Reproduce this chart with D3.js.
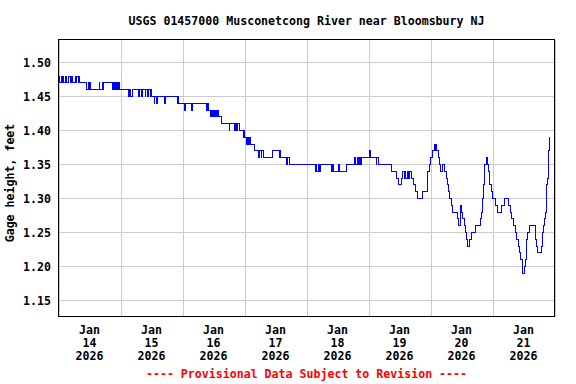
<!DOCTYPE html>
<html>
<head>
<meta charset="utf-8">
<script src="https://cdn.jsdelivr.net/npm/d3@7"></script>
<style>
  body { margin: 0; background: #fff; }
  text { font-family: "DejaVu Sans Mono", "Liberation Mono", monospace; font-weight: bold; font-size: 11.6px; }
  .grid line { stroke: #cccccc; stroke-width: 1; shape-rendering: crispEdges; }
  .grid path { display: none; }
</style>
</head>
<body>
<div id="chart"></div>
<script>
// gage height, step changes: [hours since Jan 14 00:00, feet]
var stepHours = [
  0, 0.5, 1, 1.25, 1.5, 2, 2.75, 3.25, 4, 4.5, 5, 5.25, 6.5, 6.75, 7, 7.75, 8, 8.25,
  11, 11.5, 12, 12.25, 12.5, 15.75, 16, 17, 17.25, 17.5,
  21, 21.25, 21.75, 22, 22.5, 22.75, 23.25, 23.5, 23.75,
  27.25, 27.5, 28, 28.5, 31, 31.5, 32, 32.5, 33.5, 33.75, 34.5, 35, 35.5, 35.75, 36,
  37, 37.25, 38, 38.25, 41, 41.5, 46, 46.25, 46.5, 48.75, 49, 51.5, 51.75,
  57.25, 57.5, 58, 59, 59.25, 59.5, 60, 60.25, 60.75, 61, 61.5, 61.75, 63,
  66, 66.25, 68.25, 68.5, 69, 69.25, 70, 71.5, 71.75, 72, 72.75, 73, 73.5, 73.75, 74.25,
  76, 77.5, 77.75, 78.5, 78.75, 79.25, 82.75, 85.5, 85.75, 86, 88.25, 88.5, 89.5,
  99.5, 99.75, 100, 100.5, 101, 101.25, 105.75, 106, 106.5, 108.5, 108.75, 111.5,
  114.75, 115, 115.75, 116, 116.5, 116.75, 117.25, 120.5, 120.75, 123, 123.25, 123.75, 129,
  130.75, 131.75, 132.75, 133.25, 133.75, 134, 134.5, 135.25, 135.5, 136,
  136.75, 137.25, 138, 139, 141, 142.75, 143, 143.5, 144, 144.75, 145.5, 145.75, 146, 146.25,
  147, 147.5, 148, 148.75, 149.25, 150, 150.75, 151, 151.5, 152, 152.5, 154.5, 155, 155.5,
  156, 156.5, 157, 157.5, 158, 158.5, 159, 159.75, 161.25,
  163.25, 163.75, 164.25, 164.5, 164.75, 165, 165.5, 166, 166.5, 166.75, 167, 167.75, 168,
  169, 169.75, 171.5, 172.5, 174.25, 175, 175.5, 176.25, 177, 177.25, 178.25, 178.5, 179,
  179.5, 180.25, 180.75, 181, 181.25, 181.5, 182.5, 184.5, 185, 185.5, 187, 187.25, 187.5,
  187.75, 188.25, 188.5, 188.75, 189, 189.25, 189.5, 189.75, 190, 190.25
];
var stepValues = [
  1.48, 1.47, 1.48, 1.47, 1.48, 1.47, 1.48, 1.47, 1.48, 1.47, 1.48, 1.47, 1.48, 1.47, 1.48, 1.47, 1.48, 1.47,
  1.46, 1.47, 1.46, 1.47, 1.46, 1.47, 1.46, 1.47, 1.46, 1.47,
  1.46, 1.47, 1.46, 1.47, 1.46, 1.47, 1.46, 1.47, 1.46,
  1.45, 1.46, 1.45, 1.46, 1.45, 1.46, 1.45, 1.46, 1.45, 1.46, 1.45, 1.46, 1.45, 1.46, 1.45,
  1.44, 1.45, 1.44, 1.45, 1.44, 1.45, 1.44, 1.45, 1.44, 1.43, 1.44, 1.43, 1.44,
  1.43, 1.44, 1.43, 1.42, 1.43, 1.42, 1.43, 1.42, 1.43, 1.42, 1.43, 1.42, 1.41,
  1.40, 1.41, 1.40, 1.41, 1.40, 1.41, 1.40, 1.39, 1.40, 1.39, 1.38, 1.39, 1.38, 1.39, 1.38,
  1.37, 1.36, 1.37, 1.36, 1.37, 1.36, 1.37, 1.36, 1.37, 1.36, 1.35, 1.36, 1.35,
  1.34, 1.35, 1.34, 1.35, 1.34, 1.35, 1.34, 1.35, 1.34, 1.35, 1.34, 1.35,
  1.36, 1.35, 1.36, 1.35, 1.36, 1.35, 1.36, 1.37, 1.36, 1.35, 1.36, 1.35, 1.34,
  1.33, 1.32, 1.33, 1.34, 1.33, 1.34, 1.33, 1.34, 1.33, 1.34,
  1.33, 1.32, 1.31, 1.30, 1.31, 1.33, 1.34, 1.35, 1.36, 1.37, 1.38, 1.37, 1.38, 1.37,
  1.36, 1.35, 1.34, 1.35, 1.34, 1.33, 1.32, 1.31, 1.30, 1.29, 1.28, 1.27, 1.26, 1.29,
  1.28, 1.27, 1.26, 1.25, 1.24, 1.23, 1.24, 1.25, 1.26,
  1.27, 1.28, 1.30, 1.32, 1.33, 1.35, 1.36, 1.35, 1.34, 1.33, 1.32, 1.31, 1.30,
  1.29, 1.28, 1.29, 1.30, 1.29, 1.28, 1.27, 1.26, 1.25, 1.24, 1.23, 1.22, 1.21,
  1.19, 1.20, 1.21, 1.22, 1.24, 1.25, 1.26, 1.24, 1.23, 1.22, 1.23, 1.24, 1.25,
  1.26, 1.27, 1.28, 1.30, 1.32, 1.33, 1.35, 1.37, 1.39, 1.39
];
var yTicks = [1.15, 1.20, 1.25, 1.30, 1.35, 1.40, 1.45, 1.50];
var dayLabels = ["14", "15", "16", "17", "18", "19", "20", "21"];
var monthLabel = "Jan";
var yearLabel = "2026";
var title = "USGS 01457000 Musconetcong River near Bloomsbury NJ";
var yTitle = "Gage height, feet";
var footnote = "---- Provisional Data Subject to Revision ----";

var W = 576, H = 384;
var margin = { top: 39.5, right: 21.5, bottom: 67.5, left: 58.5 };

var start = new Date(Date.UTC(2026, 0, 14));
var end = new Date(Date.UTC(2026, 0, 22));

var x = d3.scaleUtc().domain([start, end]).range([margin.left, W - margin.right]);
var y = d3.scaleLinear().domain([1.12647, 1.53382]).range([H - margin.bottom, margin.top]);

var data = stepHours.map(function(h, i) {
  return { t: new Date(start.getTime() + h * 3600000), v: stepValues[i] };
});

var svg = d3.select("#chart").append("svg")
  .attr("width", W)
  .attr("height", H);

// grid lines
svg.append("g")
  .attr("class", "grid")
  .attr("transform", "translate(" + margin.left + ",0)")
  .call(d3.axisLeft(y).tickValues(yTicks).tickSize(-(W - margin.left - margin.right)).tickFormat(""));

svg.append("g")
  .attr("class", "grid")
  .attr("transform", "translate(0," + (H - margin.bottom) + ")")
  .call(d3.axisBottom(x).ticks(d3.utcDay.every(1)).tickSize(-(H - margin.top - margin.bottom)).tickFormat(""));

// the series
var line = d3.line()
  .curve(d3.curveStepAfter)
  .x(function(d) { return x(d.t); })
  .y(function(d) { return y(d.v); });

svg.append("path")
  .datum(data)
  .attr("fill", "none")
  .attr("stroke", "#0000ff")
  .attr("stroke-width", 1)
  .attr("shape-rendering", "crispEdges")
  .attr("d", line);

// frame
svg.append("rect")
  .attr("x", margin.left)
  .attr("y", margin.top)
  .attr("width", W - margin.left - margin.right)
  .attr("height", H - margin.top - margin.bottom)
  .attr("fill", "none")
  .attr("stroke", "#000")
  .attr("stroke-width", 1)
  .attr("shape-rendering", "crispEdges");

// y tick labels
svg.append("g").selectAll("text")
  .data(yTicks)
  .enter().append("text")
  .attr("x", 51)
  .attr("y", function(d) { return y(d) + 4.5; })
  .attr("text-anchor", "end")
  .text(function(d) { return d.toFixed(2); });

// x tick labels, centred on noon of each day
var days = d3.utcDay.range(start, end);
var xl = svg.append("g").selectAll("text")
  .data(days)
  .enter().append("text")
  .attr("text-anchor", "middle")
  .attr("transform", function(d) { return "translate(" + x(d3.utcHour.offset(d, 12)) + ",334)"; });
xl.append("tspan").attr("x", 0).attr("y", 0).text(monthLabel);
xl.append("tspan").attr("x", 0).attr("y", 13).text(function(d, i) { return dayLabels[i]; });
xl.append("tspan").attr("x", 0).attr("y", 26).text(yearLabel);

// titles
svg.append("text")
  .attr("x", (margin.left + W - margin.right) / 2)
  .attr("y", 25)
  .attr("text-anchor", "middle")
  .text(title);

svg.append("text")
  .attr("transform", "translate(14,183) rotate(-90)")
  .attr("text-anchor", "middle")
  .text(yTitle);

svg.append("text")
  .attr("x", (margin.left + W - margin.right) / 2)
  .attr("y", 378)
  .attr("text-anchor", "middle")
  .attr("fill", "#ff0000")
  .text(footnote);
</script>
</body>
</html>
